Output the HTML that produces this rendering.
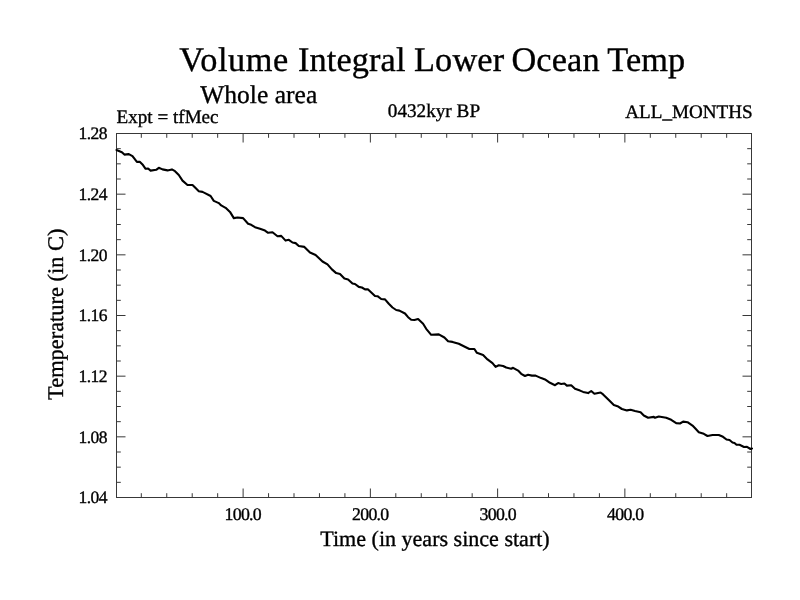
<!DOCTYPE html>
<html><head><meta charset="utf-8"><title>Volume Integral Lower Ocean Temp</title>
<style>html,body{margin:0;padding:0;background:#fff}svg{display:block;will-change:transform}text{font-family:"Liberation Serif",serif;text-rendering:geometricPrecision;fill:#000;stroke:#000;stroke-width:.35px;stroke-linejoin:round}</style></head><body>
<svg width="800" height="600" viewBox="0 0 800 600">
<rect width="800" height="600" fill="#fff"/>
<g stroke="#383838" stroke-width="1" fill="none">
<rect x="116.5" y="133.5" width="635.0" height="364.0"/>
<path d="M141.31 497.5v-4.3M141.31 133.5v4.3M166.76 497.5v-4.3M166.76 133.5v4.3M192.21 497.5v-4.3M192.21 133.5v4.3M217.66 497.5v-4.3M217.66 133.5v4.3M243.11 497.5v-9M243.11 133.5v9M268.56 497.5v-4.3M268.56 133.5v4.3M294.01 497.5v-4.3M294.01 133.5v4.3M319.46 497.5v-4.3M319.46 133.5v4.3M344.91 497.5v-4.3M344.91 133.5v4.3M370.36 497.5v-9M370.36 133.5v9M395.81 497.5v-4.3M395.81 133.5v4.3M421.26 497.5v-4.3M421.26 133.5v4.3M446.71 497.5v-4.3M446.71 133.5v4.3M472.16 497.5v-4.3M472.16 133.5v4.3M497.61 497.5v-9M497.61 133.5v9M523.06 497.5v-4.3M523.06 133.5v4.3M548.51 497.5v-4.3M548.51 133.5v4.3M573.96 497.5v-4.3M573.96 133.5v4.3M599.41 497.5v-4.3M599.41 133.5v4.3M624.86 497.5v-9M624.86 133.5v9M650.31 497.5v-4.3M650.31 133.5v4.3M675.76 497.5v-4.3M675.76 133.5v4.3M701.21 497.5v-4.3M701.21 133.5v4.3M726.66 497.5v-4.3M726.66 133.5v4.3M116.5 133.50h9M751.5 133.50h-9M116.5 148.67h4.3M751.5 148.67h-4.3M116.5 163.83h4.3M751.5 163.83h-4.3M116.5 179.00h4.3M751.5 179.00h-4.3M116.5 194.17h9M751.5 194.17h-9M116.5 209.33h4.3M751.5 209.33h-4.3M116.5 224.50h4.3M751.5 224.50h-4.3M116.5 239.67h4.3M751.5 239.67h-4.3M116.5 254.83h9M751.5 254.83h-9M116.5 270.00h4.3M751.5 270.00h-4.3M116.5 285.17h4.3M751.5 285.17h-4.3M116.5 300.33h4.3M751.5 300.33h-4.3M116.5 315.50h9M751.5 315.50h-9M116.5 330.67h4.3M751.5 330.67h-4.3M116.5 345.83h4.3M751.5 345.83h-4.3M116.5 361.00h4.3M751.5 361.00h-4.3M116.5 376.17h9M751.5 376.17h-9M116.5 391.33h4.3M751.5 391.33h-4.3M116.5 406.50h4.3M751.5 406.50h-4.3M116.5 421.67h4.3M751.5 421.67h-4.3M116.5 436.83h9M751.5 436.83h-9M116.5 452.00h4.3M751.5 452.00h-4.3M116.5 467.17h4.3M751.5 467.17h-4.3M116.5 482.33h4.3M751.5 482.33h-4.3M116.5 497.50h9M751.5 497.50h-9"/>
</g>
<polyline fill="none" stroke="#000" stroke-width="2.1" stroke-linejoin="round" stroke-linecap="round" points="116.5,150.0 121.9,152.2 124.4,154.6 128.8,154.1 132.5,156.2 136.9,161.9 140.0,161.9 142.5,164.4 145.6,168.8 148.1,168.5 150.6,170.6 156.2,169.8 158.8,167.8 162.5,169.4 167.5,170.4 171.9,169.4 175.0,171.2 178.8,175.0 182.5,180.6 187.5,185.0 192.5,185.0 195.6,188.1 198.8,191.2 202.5,191.9 205.0,193.1 210.6,196.0 213.8,200.9 218.8,203.1 221.2,205.4 225.6,207.8 230.0,211.9 233.8,218.1 237.5,217.5 243.1,218.1 248.1,223.8 251.2,224.8 255.0,227.2 260.0,228.8 265.0,230.6 268.1,232.8 272.5,232.2 277.5,236.2 281.2,235.9 285.6,240.6 288.8,239.8 292.5,242.5 295.6,243.1 298.8,246.0 304.4,246.9 310.0,252.5 315.6,255.0 322.5,261.5 327.5,264.4 331.9,269.4 336.2,273.1 340.0,274.0 344.4,278.5 348.1,279.4 352.5,283.5 355.0,284.0 358.8,286.9 361.9,287.5 365.0,289.4 368.1,289.4 375.0,296.0 377.5,296.2 381.2,299.0 385.0,299.4 388.8,303.8 392.5,307.5 396.2,310.0 399.4,310.6 405.0,313.5 408.1,317.2 411.2,319.8 414.4,320.0 418.1,319.0 423.1,323.8 426.2,328.8 431.2,334.8 438.8,334.4 444.4,337.5 448.1,341.2 452.5,341.9 458.8,343.8 463.8,346.2 469.4,349.0 474.4,349.0 476.9,352.8 483.1,355.0 487.5,359.4 492.5,363.1 495.6,366.9 498.8,365.2 503.1,366.0 506.2,367.5 511.2,368.8 513.1,367.8 518.1,370.6 521.2,373.8 525.0,376.0 528.1,374.8 531.9,375.6 535.6,375.6 541.2,378.1 545.0,379.4 550.0,382.8 555.0,385.2 558.1,383.1 561.2,384.0 564.4,383.5 566.9,385.6 571.2,385.2 575.0,388.8 580.0,390.6 583.1,391.9 588.1,393.1 591.2,391.0 594.4,393.8 600.6,392.5 603.1,394.4 608.8,400.0 613.8,405.0 617.5,406.2 621.9,409.0 626.9,410.4 630.6,409.8 635.0,411.0 640.6,412.2 643.8,415.5 648.1,417.8 653.8,416.9 655.0,417.8 658.8,416.5 666.2,417.8 671.2,419.8 676.2,423.1 680.0,423.5 683.1,421.6 687.5,422.2 692.5,425.6 695.6,428.8 698.8,432.2 703.8,433.8 707.5,436.0 712.5,435.0 718.8,435.0 723.0,436.8 726.5,439.5 729.5,440.0 732.5,442.5 734.5,443.0 736.5,444.8 739.5,444.8 744.0,447.0 747.0,446.8 750.5,449.0 752.0,448.5"/>
<text y="71" font-size="34.3" stroke-width=".8" letter-spacing=".14"><tspan x="179.3" letter-spacing=".55">Volume</tspan> <tspan x="297.9">Integral</tspan> <tspan x="414">Lower</tspan> <tspan x="511.4">Ocean</tspan> <tspan x="607.2">Temp</tspan></text>
<text y="103" font-size="25.5" stroke-width=".75"><tspan x="200.3">Whole</tspan> <tspan x="274.8">area</tspan></text>
<text x="116.6" y="123.3" font-size="19.1" stroke-width=".65">Expt = tfMec</text>
<text y="116.7" font-size="19.2" stroke-width=".65"><tspan x="387.8">0432kyr</tspan> <tspan x="456.6">BP</tspan></text>
<text x="752.6" y="117.8" font-size="19.1" text-anchor="end" stroke-width=".65">ALL_MONTHS</text>
<text x="106.8" y="139.3" font-size="17.5" text-anchor="end" letter-spacing="-.6" stroke-width=".55">1.28</text>
<text x="106.8" y="200.0" font-size="17.5" text-anchor="end" letter-spacing="-.6" stroke-width=".55">1.24</text>
<text x="106.8" y="260.6" font-size="17.5" text-anchor="end" letter-spacing="-.6" stroke-width=".55">1.20</text>
<text x="106.8" y="321.3" font-size="17.5" text-anchor="end" letter-spacing="-.6" stroke-width=".55">1.16</text>
<text x="106.8" y="382.0" font-size="17.5" text-anchor="end" letter-spacing="-.6" stroke-width=".55">1.12</text>
<text x="106.8" y="442.6" font-size="17.5" text-anchor="end" letter-spacing="-.6" stroke-width=".55">1.08</text>
<text x="106.8" y="503.3" font-size="17.5" text-anchor="end" letter-spacing="-.6" stroke-width=".55">1.04</text>
<text x="242.8" y="519.6" font-size="17.8" text-anchor="middle" letter-spacing="-.7" stroke-width=".55">100.0</text>
<text x="370.3" y="519.6" font-size="17.8" text-anchor="middle" letter-spacing="-.7" stroke-width=".55">200.0</text>
<text x="497.8" y="519.6" font-size="17.8" text-anchor="middle" letter-spacing="-.7" stroke-width=".55">300.0</text>
<text x="625.3" y="519.6" font-size="17.8" text-anchor="middle" letter-spacing="-.7" stroke-width=".55">400.0</text>
<text x="435" y="546" font-size="22.05" text-anchor="middle" stroke-width=".7">Time (in years since start)</text>
<text transform="translate(63.4 314.3) rotate(-90)" font-size="22.4" text-anchor="middle" stroke-width=".7">Temperature (in C)</text>
</svg></body></html>
